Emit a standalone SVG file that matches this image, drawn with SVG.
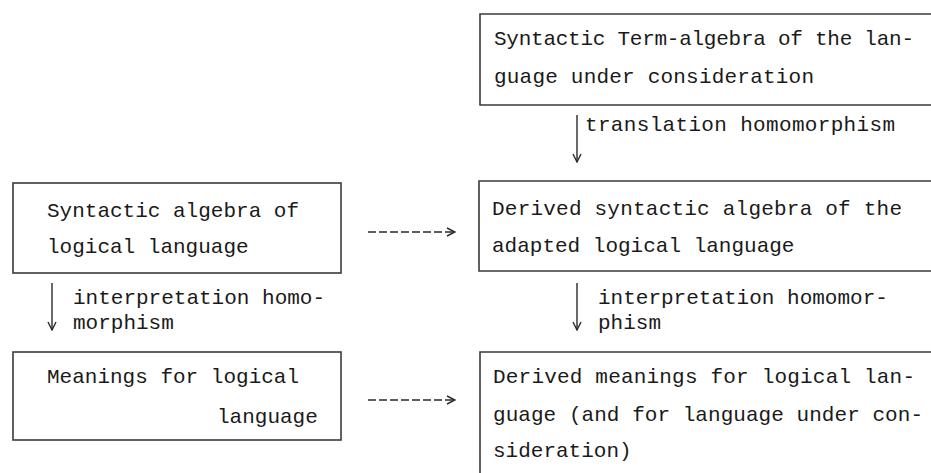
<svg xmlns="http://www.w3.org/2000/svg" width="931" height="473" viewBox="0 0 931 473">
<defs>
<style>
.box{fill:none;stroke:#3a3a3a;stroke-width:1.6}
.t{font-family:"Liberation Mono","Courier New",monospace;font-size:21px;fill:#1a1a1a}
.c{fill:none;stroke:#2a2a2a;stroke-width:1.4}
.d{fill:none;stroke:#2a2a2a;stroke-width:1.6;stroke-dasharray:8 3}
</style>
<marker id="ah" viewBox="0 0 10 10" refX="9" refY="5" markerWidth="10" markerHeight="10" markerUnits="userSpaceOnUse" orient="auto">
<path d="M1,1 L9,5 L1,9" fill="none" stroke="#2a2a2a" stroke-width="1.4"/>
</marker>
</defs>
<rect width="931" height="473" fill="#fff"/>
<g id="term-algebra">
<path class="box" d="M931,14 H480 V105 H931"/>
<text class="t" x="494" y="45" textLength="420" lengthAdjust="spacing">Syntactic Term-algebra of the lan-</text>
<text class="t" x="494" y="83" textLength="320" lengthAdjust="spacing">guage under consideration</text>
</g>
<g id="syntactic-algebra">
<rect class="box" x="13" y="183" width="328" height="90"/>
<text class="t" x="47" y="217">Syntactic algebra of</text>
<text class="t" x="47" y="253">logical language</text>
</g>
<g id="derived-syntactic">
<path class="box" d="M931,181 H479 V271 H931"/>
<text class="t" x="492" y="215" textLength="410" lengthAdjust="spacing">Derived syntactic algebra of the</text>
<text class="t" x="492" y="252">adapted logical language</text>
</g>
<g id="meanings">
<rect class="box" x="13" y="352" width="328" height="88"/>
<text class="t" x="47" y="383">Meanings for logical</text>
<text class="t" x="217" y="423">language</text>
</g>
<g id="derived-meanings">
<path class="box" d="M931,352 H480 V473"/>
<text class="t" x="493" y="383" textLength="422" lengthAdjust="spacing">Derived meanings for logical lan-</text>
<text class="t" x="493" y="421" textLength="430" lengthAdjust="spacing">guage (and for language under con-</text>
<text class="t" x="493" y="457">sideration)</text>
</g>
<g id="connectors">
<line class="c" x1="577" y1="115" x2="577" y2="162" marker-end="url(#ah)"/>
<text class="t" x="585" y="131" textLength="310" lengthAdjust="spacing">translation homomorphism</text>
<line class="c" x1="52" y1="283" x2="52" y2="330" marker-end="url(#ah)"/>
<text class="t" x="73" y="304">interpretation homo-</text>
<text class="t" x="73" y="329">morphism</text>
<line class="c" x1="577" y1="283" x2="577" y2="330" marker-end="url(#ah)"/>
<text class="t" x="598" y="304">interpretation homomor-</text>
<text class="t" x="598" y="329">phism</text>
<line class="d" x1="368" y1="232" x2="455" y2="232" marker-end="url(#ah)"/>
<line class="d" x1="368" y1="400" x2="455" y2="400" marker-end="url(#ah)"/>
</g>
</svg>
